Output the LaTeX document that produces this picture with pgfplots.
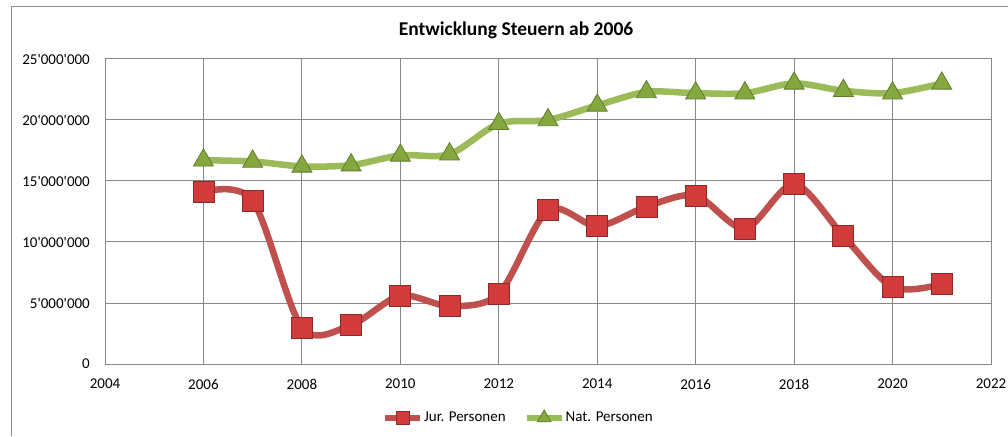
\documentclass[border=0pt]{standalone}
\usepackage{fontspec}
\setmainfont{Carlito}[Ligatures=TeXOff]
\usepackage{pgfplots}
\pgfplotsset{compat=1.18}
\definecolor{redline}{HTML}{C0504D}
\definecolor{redfill}{HTML}{D23B3B}
\definecolor{rededge}{HTML}{8C2A28}
\definecolor{greenline}{HTML}{9BBB59}
\definecolor{greenfill}{HTML}{84A83F}
\definecolor{greenedge}{HTML}{5F7D2B}
\definecolor{gridgray}{HTML}{878787}
\definecolor{bordergray}{HTML}{8C8C8C}
\begin{document}
\begin{tikzpicture}
\useasboundingbox (0pt,0pt) rectangle (1008pt,436pt);
\draw[bordergray, line width=1pt] (11pt,0pt) -- (11pt,429pt) -- (1008pt,429pt);
\node[font=\bfseries\fontsize{19.5}{23}\selectfont] at (516pt,406pt) {Entwicklung Steuern ab 2006};
\begin{axis}[at={(105pt,72pt)}, anchor=south west, scale only axis,
  width=886pt, height=305pt,
  xmin=2004, xmax=2022, ymin=0, ymax=25000000,
  xtick={2004,2006,2008,2010,2012,2014,2016,2018,2020,2022},
  ytick={0,5000000,10000000,15000000,20000000,25000000},
  grid=major, major grid style={gridgray, line width=1pt},
  axis line style={gridgray, line width=1pt},
  major tick length=0pt,
  tick label style={font=\fontsize{15}{18}\selectfont, text=black},
  /pgf/number format/assume math mode=true,
  xticklabel={\pgfmathprintnumber[fixed,precision=0,1000 sep={}]{\tick}},
  yticklabel={\pgfmathprintnumber[fixed,precision=0,1000 sep={'}]{\tick}},
  scaled y ticks=false, scaled x ticks=false,
  xticklabel style={inner sep=0pt, yshift=-15pt, anchor=north},
  yticklabel style={inner sep=0pt, xshift=-15pt, anchor=east},
  clip=false,
  legend style={draw=none, fill=none, at={(0.466,-0.174)}, anchor=center,
    legend columns=2, font=\fontsize{15}{18}\selectfont,
    nodes={inner sep=1pt}, /tikz/every even column/.append style={column sep=17pt}},
  legend image code/.code={\draw[mark repeat=2,mark phase=2] plot coordinates {(0pt,0pt)(17.5pt,0pt)(35pt,0pt)};},
]
\addlegendimage{redline, line width=6pt, mark=square*, mark size=6.5pt, mark options={solid, fill=redfill, draw=rededge, line width=0.7pt}}
\addlegendentry{Jur. Personen}
\addlegendimage{greenline, line width=6pt, mark=triangle*, mark size=8pt, mark options={solid, fill=greenfill, draw=greenedge, line width=0.7pt}}
\addlegendentry{Nat. Personen}
\addplot[forget plot, redline, line width=6.5pt, smooth, mark=square*, mark size=10.5pt,
  mark options={solid, fill=redfill, draw=rededge, line width=0.8pt}] coordinates {
 (2006,14100000) (2007,13400000) (2008,3000000) (2009,3200000) (2010,5600000)
 (2011,4750000) (2012,5750000) (2013,12600000) (2014,11300000) (2015,12900000)
 (2016,13800000) (2017,11100000) (2018,14750000) (2019,10500000) (2020,6300000)
 (2021,6550000)};
\addplot[forget plot, greenline, line width=6.5pt, smooth, mark=triangle*, mark size=11.5pt,
  mark options={solid, fill=greenfill, draw=greenedge, line width=0.8pt}] coordinates {
 (2006,16700000) (2007,16600000) (2008,16200000) (2009,16300000) (2010,17100000)
 (2011,17200000) (2012,19700000) (2013,20000000) (2014,21200000) (2015,22300000)
 (2016,22200000) (2017,22200000) (2018,23000000) (2019,22400000) (2020,22200000)
 (2021,23000000)};
\end{axis}
\end{tikzpicture}
\end{document}
